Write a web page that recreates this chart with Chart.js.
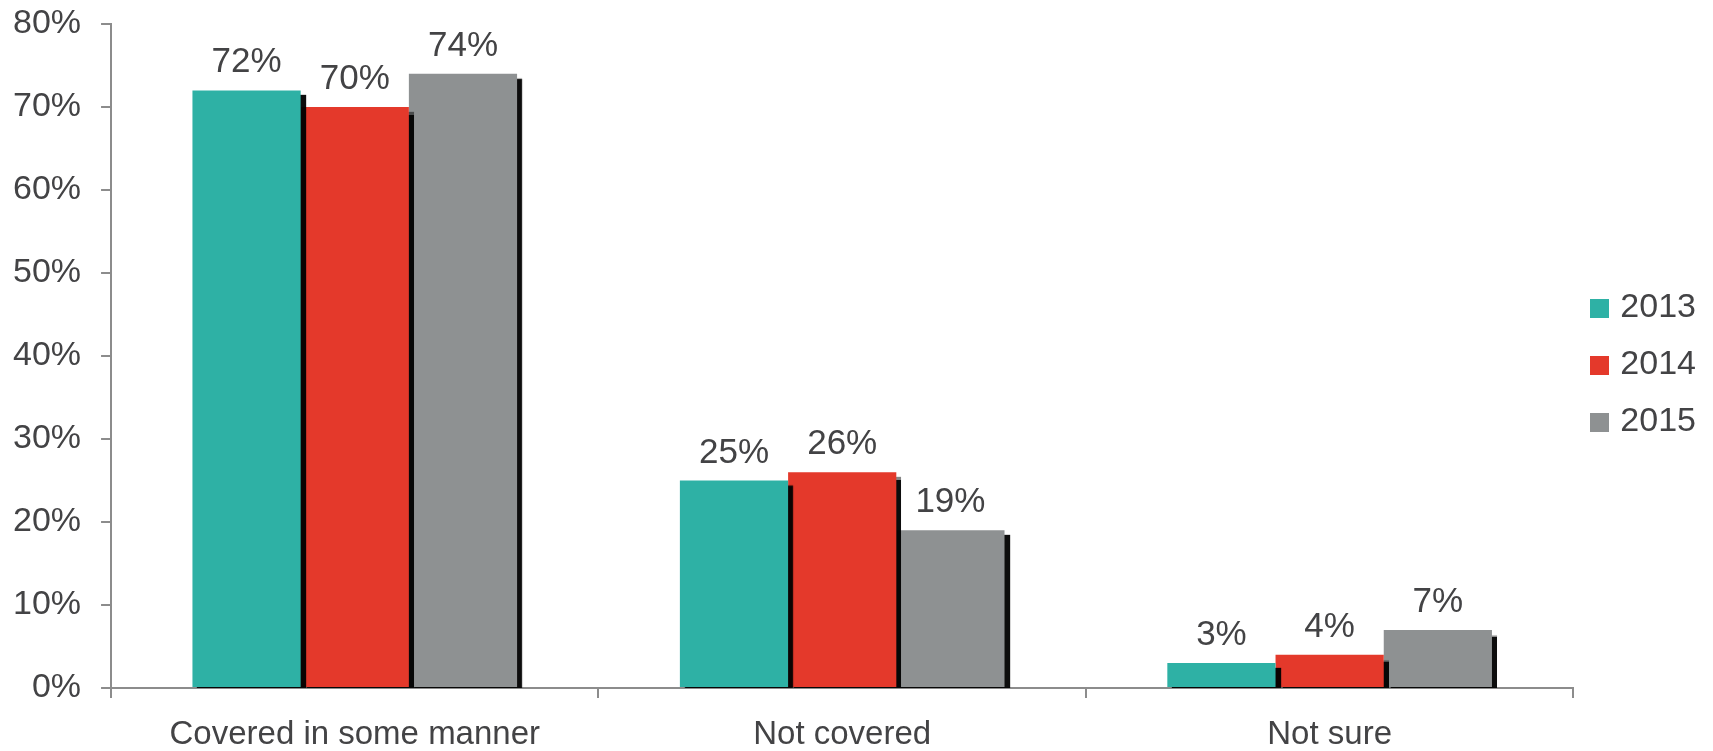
<!DOCTYPE html>
<html>
<head>
<meta charset="utf-8">
<script src="https://cdn.jsdelivr.net/npm/chart.js@4.4.0/dist/chart.umd.min.js"></script>
<style>
  html, body { margin: 0; padding: 0; background: #ffffff; }
  #wrap { width: 1713px; height: 751px; }
</style>
</head>
<body>
<div id="wrap"><canvas id="myChart" width="1713" height="751"></canvas></div>
<script>
// Datos
const categories = ["Covered in some manner", "Not covered", "Not sure"];
const seriesNames = ["2013", "2014", "2015"];
const values2013 = [72, 25, 3];
const values2014 = [70, 26, 4];
const values2015 = [74, 19, 7];
const yTicks = [0, 10, 20, 30, 40, 50, 60, 70, 80];

const colors = ["#2eb1a5", "#e4392b", "#8e9192"];
const textColor = "#434345";
const fontFamily = "'Liberation Sans', Arial, sans-serif";

// Cuadro de color de la leyenda (imagen, para dejar poco espacio antes del texto)
const legendSquare = (color) => {
    const c = document.createElement("canvas");
    c.width = 19;
    c.height = 19;
    const cx = c.getContext("2d");
    cx.fillStyle = color;
    cx.fillRect(0, 0, 19, 19);
    return c;
};
const legendSquares = colors.map(legendSquare);

// Sombra negra a la derecha de cada barra y etiquetas de valor encima
const barShadow = {
    id: "barShadow",
    beforeDatasetsDraw(chart) {
        const ctx = chart.ctx;
        ctx.save();
        ctx.shadowColor = "rgba(0,0,0,0.95)";
        ctx.shadowOffsetX = 5;
        ctx.shadowOffsetY = 5;
        ctx.shadowBlur = 1;
    },
    afterDatasetsDraw(chart) {
        const ctx = chart.ctx;
        ctx.restore();
        ctx.save();
        ctx.font = "35px " + fontFamily;
        ctx.fillStyle = textColor;
        ctx.textAlign = "center";
        ctx.textBaseline = "alphabetic";
        chart.data.datasets.forEach((ds, i) => {
            chart.getDatasetMeta(i).data.forEach((bar, j) => {
                ctx.fillText(ds.data[j] + "%", bar.x, bar.y - 18);
            });
        });
        ctx.restore();
    }
};

const seriesValues = [values2013, values2014, values2015];
const datasets = seriesNames.map((name, i) => ({
    label: name,
    data: seriesValues[i],
    backgroundColor: colors[i],
    borderWidth: 0,
    categoryPercentage: 0.666,
    barPercentage: 1.0,
    clip: { left: false, top: false, right: false, bottom: 0 }
}));

const myChart = new Chart(document.querySelector("#myChart"), {
    type: "bar",
    data: { labels: categories, datasets: datasets },
    options: {
        responsive: false,
        animation: false,
        layout: { padding: { left: -7, top: -41, right: 7, bottom: -20 } },
        plugins: {
            tooltip: { enabled: false },
            legend: {
                position: "right",
                labels: {
                    usePointStyle: true,
                    boxWidth: 7,
                    boxHeight: 19,
                    padding: 23,
                    color: textColor,
                    font: { family: fontFamily, size: 34 },
                    generateLabels: (chart) => {
                        const items = Chart.defaults.plugins.legend.labels.generateLabels(chart);
                        items.forEach((item, i) => { item.pointStyle = legendSquares[i]; });
                        return items;
                    }
                }
            }
        },
        scales: {
            x: {
                grid: {
                    display: true,
                    offset: true,
                    drawOnChartArea: false,
                    drawTicks: true,
                    tickLength: 10,
                    color: "#8c8c8c",
                    lineWidth: 2
                },
                border: { display: true, color: "#8c8c8c", width: 2 },
                ticks: {
                    color: textColor,
                    padding: 20,
                    maxRotation: 0,
                    minRotation: 0,
                    autoSkip: false,
                    font: { family: fontFamily, size: 33, lineHeight: 1 }
                }
            },
            y: {
                min: 0,
                max: 80,
                afterBuildTicks: (axis) => {
                    axis.ticks = yTicks.map((v) => ({ value: v }));
                },
                // el margen superior lo fija el primer tick (24px)
                afterFit: (axis) => {
                    axis.paddingTop = 24;
                },
                grid: {
                    display: true,
                    drawOnChartArea: false,
                    drawTicks: true,
                    tickLength: 10,
                    color: "#8c8c8c",
                    lineWidth: 2
                },
                border: { display: true, color: "#8c8c8c", width: 2 },
                ticks: {
                    color: textColor,
                    padding: 20,
                    font: { family: fontFamily, size: 34, lineHeight: 1 },
                    callback: (v) => v + "%"
                }
            }
        }
    },
    plugins: [barShadow]
});
</script>
</body>
</html>
